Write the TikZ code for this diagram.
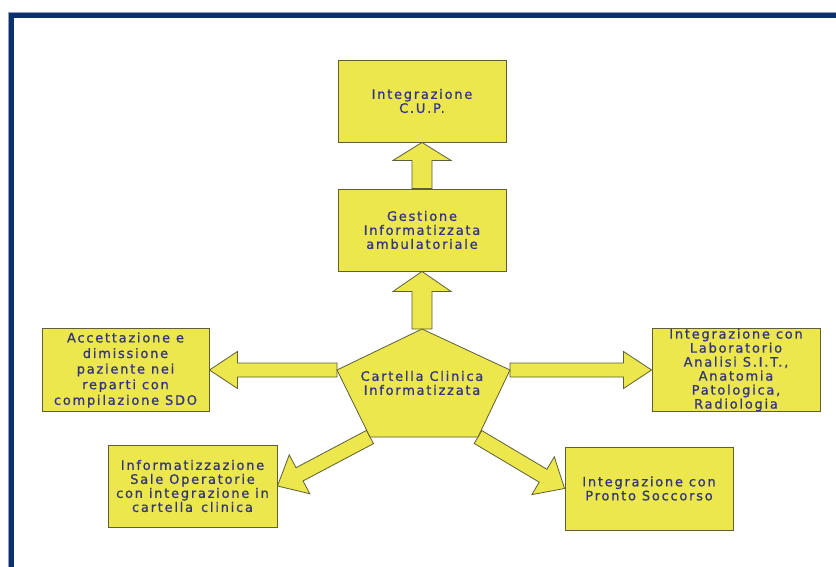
\documentclass[tikz,border=0pt]{standalone}
\usepackage{fontspec}
\setmainfont{DejaVu Sans}[LetterSpace=13.5, FakeBold=0.9]
\usetikzlibrary{calc}
\pgfdeclarelayer{paper}
\pgfdeclarelayer{background}
\pgfsetlayers{paper,background,main}

\definecolor{framenavy}{RGB}{10,48,110}
\definecolor{frameedge}{RGB}{140,160,195}
\definecolor{boxyellow}{RGB}{235,231,76}
\definecolor{boxline}{RGB}{95,95,55}
\definecolor{labelblue}{RGB}{52,52,135}

\tikzset{
  box/.style={draw=boxline, fill=boxyellow, line width=0.9pt,
    minimum width=168pt, minimum height=82pt, inner sep=0pt,
    align=center, text=labelblue, font=\fontsize{13pt}{14pt}\selectfont},
  arrowshape/.style={draw=boxline, fill=boxyellow, line width=0.8pt, line join=miter},
  pentlabel/.style={align=center, text=labelblue, font=\fontsize{13pt}{14pt}\selectfont},
}

% block arrow: #1 start, #2 tip, #3 shaft half width, #4 head half width, #5 head length
\newcommand\blockarrow[5]{%
  \coordinate (ba-base) at ($(#2)!#5!(#1)$);
  \draw[arrowshape] ($(#1)!#3!90:(#2)$) -- ($(ba-base)!#3!90:(#2)$)
    -- ($(ba-base)!#4!90:(#2)$) -- (#2) -- ($(ba-base)!#4!-90:(#2)$)
    -- ($(ba-base)!#3!-90:(#2)$) -- ($(#1)!#3!-90:(#2)$) -- cycle;
}

\begin{document}
\begin{tikzpicture}[x=1pt, y=-1pt]
  \useasboundingbox (0,0) rectangle (836,567);
  \begin{pgfonlayer}{paper}
    \fill[white] (0,0) rectangle (836,567);
  \end{pgfonlayer}

  % frame: top and left bands
  \fill[frameedge] (8,12) rectangle (836,18);
  \fill[frameedge] (8,12) rectangle (14,567);
  \fill[framenavy] (9,13) rectangle (836,18);
  \fill[framenavy] (9,13) rectangle (14,567);

  % central pentagon
  \coordinate (pt)  at (422,329);
  \coordinate (pr)  at (510,370);
  \coordinate (pbr) at (478,437);
  \coordinate (pbl) at (370,437);
  \coordinate (pl)  at (337,370);
  \draw[arrowshape] (pt) -- (pr) -- (pbr) -- (pbl) -- (pl) -- cycle;
  \node[pentlabel] (cartella) at (422,383) {Cartella Clinica\\Informatizzata};

  % boxes
  \node[box] (cup) at (422,101) {Integrazione\\C.U.P.};
  \node[box] (ges) at (422,230) {Gestione\\Informatizzata\\ambulatoriale};
  \node[box, minimum width=167pt, minimum height=83pt,
        font=\fontsize{13pt}{15.6pt}\selectfont] (acc) at (125.5,370)
    {Accettazione e\\dimissione\\paziente nei\\reparti con\\compilazione SDO};
  \node[box, minimum height=83pt] (lab) at (736,370)
    {Integrazione con\\Laboratorio\\Analisi S.I.T.,\\Anatomia\\Patologica,\\Radiologia};
  \node[box, minimum width=169pt] (sale) at (192.5,486)
    {Informatizzazione\\Sale Operatorie\\con integrazione in\\cartella\hspace{8pt}clinica};
  \node[box, minimum height=83pt] (pronto) at (649,488.5)
    {Integrazione con\\Pronto Soccorso};

  % block arrows behind the shapes
  \begin{pgfonlayer}{background}
    \blockarrow{ges.north}{cup.south}{10pt}{29pt}{18pt}
    \blockarrow{pt}{ges.south}{10pt}{29pt}{20pt}
    \blockarrow{pl}{acc.east}{7pt}{18.5pt}{28pt}
    \blockarrow{pr}{lab.west}{7pt}{18.5pt}{28pt}
    \blockarrow{pbl}{sale.east}{7.5pt}{22pt}{25pt}
    \blockarrow{pbr}{pronto.west}{7.5pt}{22pt}{25pt}
  \end{pgfonlayer}
\end{tikzpicture}
\end{document}
